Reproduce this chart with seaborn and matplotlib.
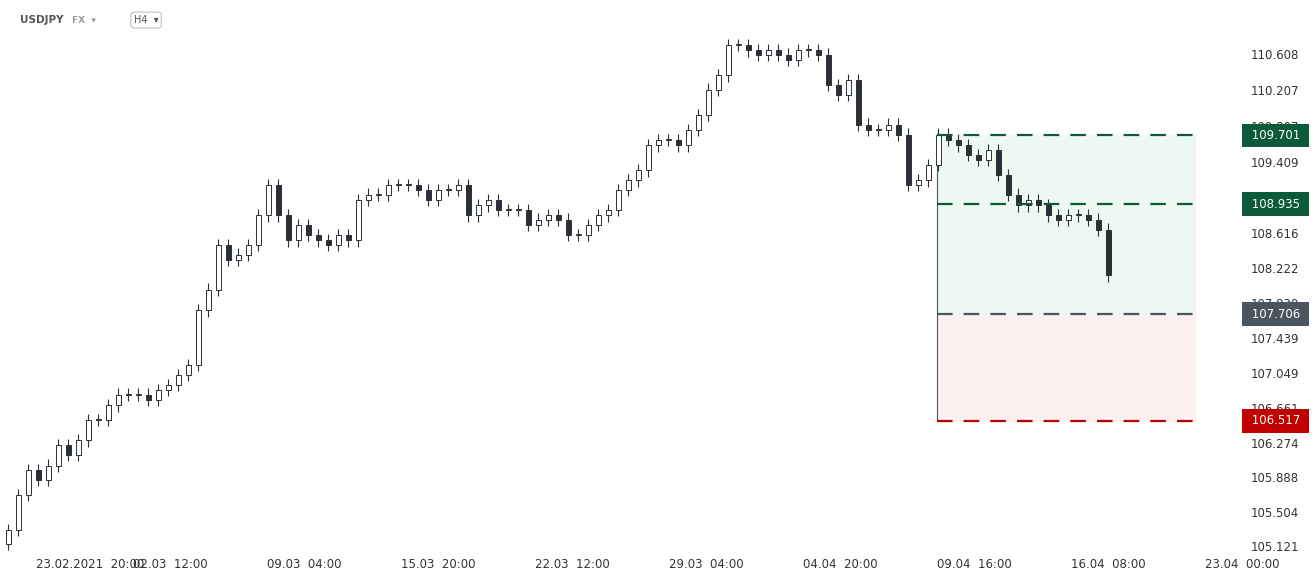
import matplotlib
matplotlib.use("Agg")
import matplotlib.pyplot as plt
import seaborn as sns
import numpy as np

sns.set_style("white")
plt.rcParams['font.family'] = ['DejaVu Sans']

# closes of H4 candles (coarse)
closes = [105.30,105.69,105.97,105.86,106.02,106.25,106.14,106.30,106.53,106.53,106.69,106.81,106.81,106.81,106.75,
          106.86,106.92,107.03,107.14,107.75,107.98,108.48,108.31,108.37,108.48,108.81,109.15,108.81,108.53,108.70,
          108.59,108.53,108.48,108.59,108.53,108.98,109.04,109.04,109.15,109.15,109.15,109.09,108.98,109.09,109.09,
          109.15,108.81,108.92,108.98,108.87,108.87,108.87,108.70,108.76,108.81,108.76,108.59,108.59,108.70,108.81,
          108.87,109.09,109.20,109.31,109.59,109.65,109.65,109.59,109.76,109.93,110.21,110.37,110.71,110.71,110.65,
          110.60,110.65,110.60,110.54,110.65,110.65,110.60,110.26,110.15,110.32,109.82,109.76,109.76,109.82,109.71,
          109.15,109.20,109.37,109.71,109.65,109.59,109.48,109.43,109.54,109.26,109.04,108.92,108.98,108.92,108.81,
          108.76,108.81,108.81,108.76,108.65,108.14]
first_open = 105.15
wick = 0.07

yticks = [110.608,110.207,109.807,109.409,109.012,108.616,108.222,107.830,107.439,107.049,106.661,106.274,105.888,105.504,105.121]
xtick_labels = ["23.02.2021  20:00","02.03  12:00","09.03  04:00","15.03  20:00","22.03  12:00",
                "29.03  04:00","04.04  20:00","09.04  16:00","16.04  08:00","23.04  00:00"]
levels = [109.701, 108.935, 107.706, 106.517]
level_colors = ["#0b5a3a", "#0b5a3a", "#4a5560", "#c00000"]

opens = [first_open] + closes[:-1]
fig = plt.figure(figsize=(13.12, 5.77), dpi=100)
ax = fig.add_axes([0.0, 0.043, 0.949, 0.957])

for i, (o, c) in enumerate(zip(opens, closes)):
    hi, lo = max(o, c) + wick, min(o, c) - wick
    ax.vlines(i, lo, hi, color="#2b2f36", lw=0.8, zorder=3)
    up = c >= o
    ax.bar(i, max(abs(c - o), 0.01), bottom=min(o, c), width=0.5,
           color="white" if up else "#2b2f36", edgecolor="#2b2f36", lw=0.7, zorder=4)

# projection boxes
x0, x1 = 92.9, 118.7
ax.fill_between([x0, x1], levels[2], levels[0], color="#eef8f2", zorder=1)
ax.fill_between([x0, x1], levels[3], levels[2], color="#fcf0f0", zorder=1)
ax.vlines(x0, levels[3], levels[0], color="#555", lw=0.8, zorder=2)
for lv, col in zip(levels, level_colors):
    ax.hlines(lv, x0, x1, color=col, lw=1.6, linestyles=(0, (7, 5)), zorder=5)
    ax.text(1.002, lv, f" {lv:.3f} ", transform=ax.get_yaxis_transform(), ha="left", va="center",
            fontsize=8.5, color="white", clip_on=False, zorder=10,
            bbox=dict(boxstyle="square,pad=0.45", fc=col, ec="none"))

ax.set_xlim(-0.8, 123.7)
ax.set_ylim(105.054, 111.21)
ax.yaxis.tick_right()
ax.set_yticks(yticks)
ax.set_yticklabels([f"{t:.3f}" for t in yticks], fontsize=8.5, color="#333")
ax.set_xticks([2.8 + 13.4 * k for k in range(len(xtick_labels))])
ax.set_xticklabels(xtick_labels, fontsize=8.5, color="#333")
ax.get_xticklabels()[0].set_horizontalalignment("left")
ax.get_xticklabels()[0].set_x(-0.3)
ax.tick_params(length=0, pad=4)
sns.despine(ax=ax, left=True, bottom=True, right=True, top=True)

fig.text(0.015, 0.96, "USDJPY", fontsize=7.5, fontweight="bold", color="#555")
fig.text(0.055, 0.96, "FX  \u25be", fontsize=6.5, fontweight="bold", color="#999")
fig.text(0.102, 0.96, "H4  \u25be", fontsize=7, color="#555",
         bbox=dict(boxstyle="round,pad=0.3", fc="white", ec="#ccc"))

fig.savefig("out.png", dpi=100)
